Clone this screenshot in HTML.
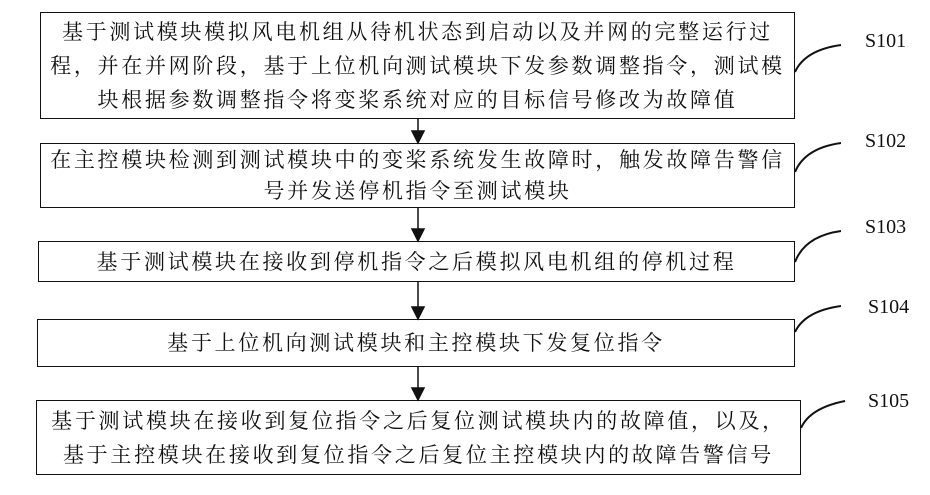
<!DOCTYPE html>
<html><head><meta charset="utf-8"><style>
body{margin:0;width:930px;height:495px;background:#fff;position:relative;overflow:hidden;font-family:"Liberation Serif","Noto Serif CJK SC",serif;}
.b{position:absolute;border:1.5px solid #111;box-sizing:border-box;display:flex;align-items:center;justify-content:center;text-align:center;font-size:21px;letter-spacing:2.7px;line-height:34px;color:#111;}
.l{position:absolute;font-size:20px;color:#111;}
</style></head><body>
<div class="b" style="left:40px;top:12px;width:755px;height:107px;">基于测试模块模拟风电机组从待机状态到启动以及并网的完整运行过<br>程，并在并网阶段，基于上位机向测试模块下发参数调整指令，测试模<br>块根据参数调整指令将变桨系统对应的目标信号修改为故障值</div>
<div class="b" style="left:40px;top:143px;width:755px;height:65px;line-height:31px;">在主控模块检测到测试模块中的变桨系统发生故障时，触发故障告警信<br>号并发送停机指令至测试模块</div>
<div class="b" style="left:38px;top:241px;width:757px;height:41px;">基于测试模块在接收到停机指令之后模拟风电机组的停机过程</div>
<div class="b" style="left:37px;top:319px;width:758px;height:48px;">基于上位机向测试模块和主控模块下发复位指令</div>
<div class="b" style="left:36px;top:400px;width:765px;height:75px;">基于测试模块在接收到复位指令之后复位测试模块内的故障值，以及，<br>基于主控模块在接收到复位指令之后复位主控模块内的故障告警信号</div>
<svg width="930" height="495" style="position:absolute;left:0;top:0">
<g stroke="#111" stroke-width="1.5" fill="#111">
<line x1="418" y1="119" x2="418" y2="133"/><polygon points="412,131 424,131 418,143"/>
<line x1="418" y1="208" x2="418" y2="230"/><polygon points="412,229 424,229 418,241"/>
<line x1="418" y1="282" x2="418" y2="308"/><polygon points="412,307 424,307 418,319"/>
<line x1="418" y1="367" x2="418" y2="389"/><polygon points="412,388 424,388 418,400"/>
</g>
<g stroke="#111" stroke-width="2" fill="none">
<path d="M795,72 Q805,50 841,45"/>
<path d="M795,172 Q805,148 841,143"/>
<path d="M795,262 Q805,236 841,231"/>
<path d="M795,332 Q805,311 841,306"/>
<path d="M801,428 Q810,408 845,401"/>
</g>
</svg>
<div class="l" style="left:865px;top:30px;">S101</div>
<div class="l" style="left:865px;top:130px;">S102</div>
<div class="l" style="left:865px;top:216px;">S103</div>
<div class="l" style="left:868px;top:296px;">S104</div>
<div class="l" style="left:868px;top:390px;">S105</div>
</body></html>
